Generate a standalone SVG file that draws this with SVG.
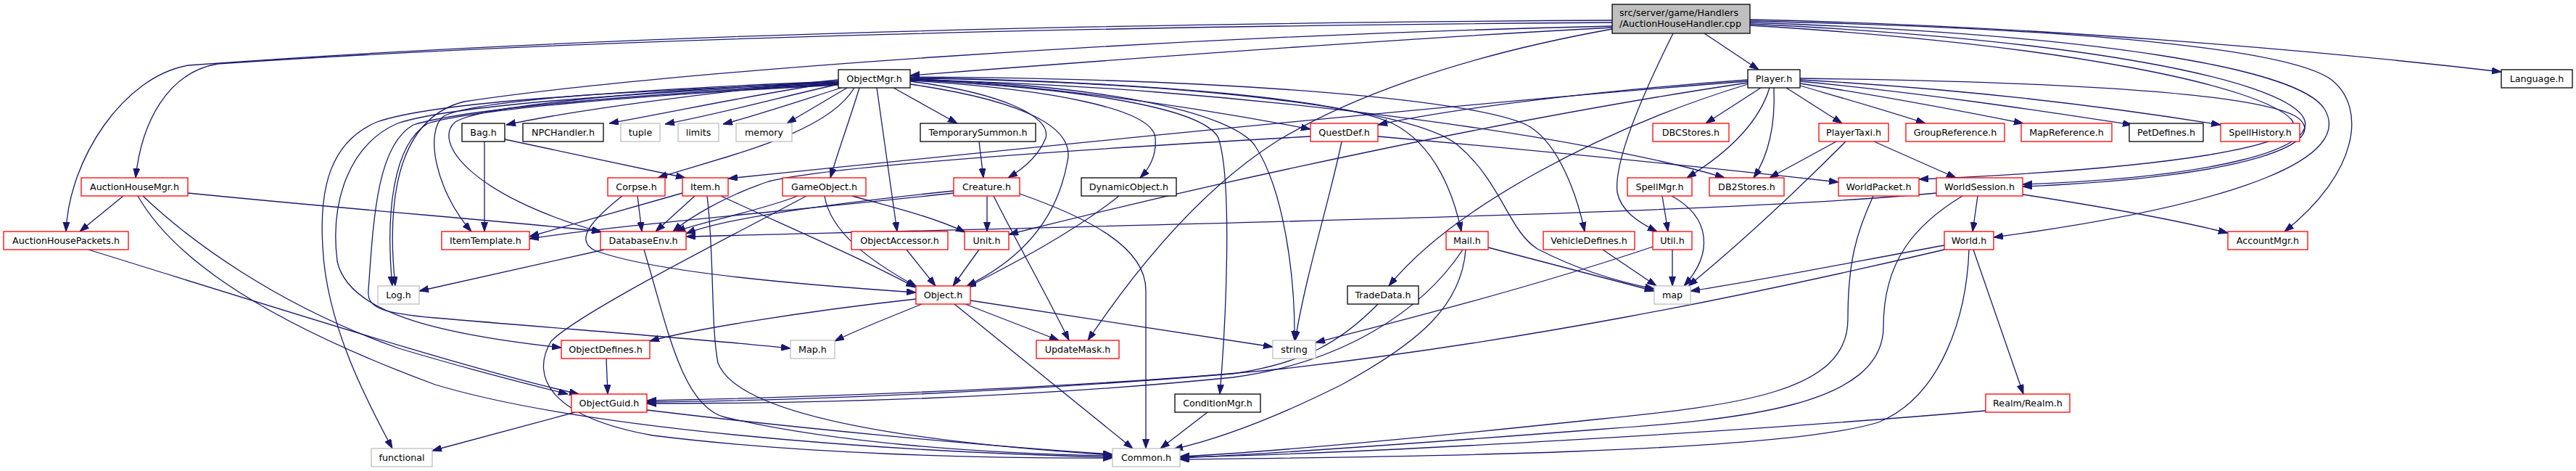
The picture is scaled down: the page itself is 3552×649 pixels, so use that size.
<svg xmlns="http://www.w3.org/2000/svg" width="3552" height="649" viewBox="0 0 3552 649">
<style>
rect{fill:#fff;stroke-width:1.3}
.r{stroke:#ff0000}.k{stroke:#000}.g{stroke:#bfbfbf}.s{fill:#bfbfbf;stroke:#000}
text{font-family:"DejaVu Sans","Liberation Sans",sans-serif;font-size:12.7px;text-anchor:middle;fill:#000}
#edges path{fill:none;stroke:#191970;stroke-width:1.3;marker-end:url(#a)}
</style>
<defs><marker id="a" markerUnits="userSpaceOnUse" markerWidth="13" markerHeight="10" refX="13" refY="4.5" orient="auto"><path d="M0,0L13,4.5L0,9z" fill="#191970" stroke="#191970" stroke-width="1"/></marker></defs>
<rect x="0" y="0" width="3552" height="649" style="fill:#fff;stroke:none"/>
<g id="edges">
<path d="M2223,28 C1500,32 800,50 260,90 C170,105 95,220 91,319"/>
<path d="M2223,31 C1500,36 800,54 300,88 C230,100 195,170 187,245"/>
<path d="M2223,38 C1900,55 1500,85 1255,104"/>
<path d="M2223,36 C1600,50 900,100 640,140 C560,160 530,250 545,394"/>
<path d="M2223,40 C2000,80 1850,140 1760,195 C1650,265 1560,380 1500,469"/>
<path d="M2307,46 C2270,120 2225,220 2230,265 C2235,290 2258,306 2285,319"/>
<path d="M2350,46 L2425,96"/>
<path d="M2413,27 C2800,35 3200,70 3449,99"/>
<path d="M2413,29 C2900,40 3160,70 3215,110 C3265,150 3250,240 3150,319"/>
<path d="M2413,31 C2900,48 3170,95 3205,150 C3245,215 3100,280 2749,327"/>
<path d="M2413,33 C2880,55 3140,110 3175,160 C3205,205 3050,245 2789,254"/>
<path d="M2413,35 C2860,62 3120,120 3160,165 C3185,200 3000,232 2646,247"/>
<path d="M2410,110 C2200,125 2000,150 1900,172"/>
<path d="M2410,112 C2100,135 1500,195 1004,246"/>
<path d="M2428,121 L2352,170"/>
<path d="M2440,121 C2425,170 2380,212 2326,245"/>
<path d="M2446,121 C2448,170 2440,212 2418,245"/>
<path d="M2463,121 L2540,170"/>
<path d="M2482,118 C2540,135 2600,152 2655,170"/>
<path d="M2482,115 C2600,133 2700,152 2790,170"/>
<path d="M2482,112 C2650,128 2810,152 2940,172"/>
<path d="M2482,110 C2700,122 2900,146 3062,172"/>
<path d="M2410,114 C2100,160 1700,245 1391,323"/>
<path d="M2410,116 C2200,180 2000,290 1915,394"/>
<path d="M2482,108 C2800,112 3100,125 3165,160 C3220,195 3100,245 2789,257"/>
<path d="M2532,195 L2440,245"/>
<path d="M2584,195 L2697,245"/>
<path d="M2545,195 C2480,260 2400,335 2328,394"/>
<path d="M2727,270 L2720,319"/>
<path d="M2789,268 C2900,285 3000,303 3072,321"/>
<path d="M2706,270 C2640,310 2597,360 2597,450 C2597,560 2400,578 2200,592 C1900,615 1700,628 1627,631"/>
<path d="M2670,266 C2400,292 1800,305 946,326"/>
<path d="M2583,270 C2560,320 2548,360 2548,440 C2548,540 2400,558 2200,578 C1900,610 1700,626 1627,629"/>
<path d="M2721,344 L2790,543"/>
<path d="M2715,344 C2712,430 2680,545 2590,582 C2450,625 1900,630 1627,633"/>
<path d="M2681,338 C2550,362 2420,388 2331,401"/>
<path d="M2681,344 C2400,410 2100,470 1770,508 C1500,535 1100,548 892,552"/>
<path d="M2738,566 C2400,595 1900,624 1627,630"/>
<path d="M2052,341 L2281,401"/>
<path d="M2017,344 C1960,430 1850,500 1700,520 C1400,550 1100,556 892,556"/>
<path d="M2021,344 C2015,420 1960,470 1850,530 C1760,575 1680,605 1618,619"/>
<path d="M1900,419 C1850,470 1800,500 1700,515 C1400,540 1100,552 892,554"/>
<path d="M2210,344 L2284,394"/>
<path d="M2306,344 L2306,394"/>
<path d="M2279,340 C2100,400 1900,450 1814,472"/>
<path d="M2292,270 L2300,319"/>
<path d="M2305,270 C2360,300 2362,350 2322,394"/>
<path d="M1850,195 C1835,270 1800,380 1786,469"/>
<path d="M1807,188 C1500,205 1150,228 1060,250 C1000,270 950,300 928,319"/>
<path d="M1900,188 C2150,210 2350,230 2535,251"/>
<path d="M1156,110 C1000,125 800,150 698,172"/>
<path d="M1156,113 C1050,128 950,150 840,170"/>
<path d="M1156,116 C1080,133 1000,155 917,171"/>
<path d="M1160,121 C1100,140 1040,160 997,171"/>
<path d="M1168,121 L1085,170"/>
<path d="M1185,121 C1170,170 1155,210 1145,245"/>
<path d="M1178,121 C1140,185 1000,215 907,245"/>
<path d="M1156,112 C900,122 650,138 612,160 C585,180 600,262 650,319"/>
<path d="M1156,113 C900,124 665,145 628,168 C595,195 650,270 829,320"/>
<path d="M1156,114 C850,126 600,140 520,168 C455,195 440,260 445,340 C450,450 510,560 541,618"/>
<path d="M1156,115 C850,129 620,146 548,170 C480,200 455,280 465,360 C480,430 600,460 774,479"/>
<path d="M1156,116 C850,131 640,151 570,172 C520,200 515,300 508,400 C505,425 530,432 600,438 C800,455 1000,470 1090,480"/>
<path d="M1156,117 C850,133 650,152 590,170 C540,200 532,300 541,394"/>
<path d="M1209,121 L1237,319"/>
<path d="M1232,121 L1320,170"/>
<path d="M1255,112 C1380,128 1450,160 1442,190 C1432,215 1412,232 1390,245"/>
<path d="M1255,116 C1420,140 1482,178 1472,222 C1460,290 1420,352 1333,394"/>
<path d="M1255,111 C1450,123 1590,150 1593,190 C1595,215 1585,232 1572,245"/>
<path d="M1255,110 C1500,122 1660,150 1680,190 C1700,250 1690,450 1682,543"/>
<path d="M1255,109 C1550,118 1700,160 1730,200 C1770,260 1786,380 1785,469"/>
<path d="M1255,108 C1450,118 1650,148 1807,178"/>
<path d="M1255,107 C1600,113 1850,138 1920,170 C1980,200 2005,270 2015,319"/>
<path d="M1255,106 C1700,108 2050,138 2110,175 C2150,200 2175,270 2185,319"/>
<path d="M1255,108 C1650,113 1950,150 2010,200 C2070,250 2080,318 2120,343 C2180,374 2240,390 2281,398"/>
<path d="M1255,110 C1700,118 2200,190 2378,245"/>
<path d="M696,192 L945,245"/>
<path d="M668,195 L668,319"/>
<path d="M941,266 L730,326"/>
<path d="M958,270 L904,319"/>
<path d="M994,270 C1080,310 1180,352 1262,396"/>
<path d="M975,270 C985,350 980,450 990,500 C1020,580 1300,612 1534,627"/>
<path d="M879,270 L885,319"/>
<path d="M858,270 C820,300 790,330 820,345 C900,375 1100,392 1263,403"/>
<path d="M1100,270 C1050,290 970,305 932,319"/>
<path d="M1112,270 C1000,330 800,430 760,470 C730,520 760,575 900,600 C1100,625 1350,632 1534,631"/>
<path d="M1137,270 C1145,320 1200,360 1264,395"/>
<path d="M1175,270 C1230,285 1290,300 1331,320"/>
<path d="M1361,270 L1361,319"/>
<path d="M1370,270 C1400,330 1440,400 1474,469"/>
<path d="M1406,267 C1500,300 1580,340 1580,400 L1580,618"/>
<path d="M1315,263 C1150,280 1000,300 946,322"/>
<path d="M1315,266 C1100,290 850,310 730,329"/>
<path d="M1543,270 C1480,320 1400,362 1333,396"/>
<path d="M1250,344 L1290,394"/>
<path d="M1350,344 L1314,394"/>
<path d="M1263,412 C1100,430 950,455 896,470"/>
<path d="M1271,419 C1220,440 1180,455 1151,470"/>
<path d="M1331,419 L1460,469"/>
<path d="M1316,419 L1562,618"/>
<path d="M1338,414 L1755,478"/>
<path d="M836,494 L838,543"/>
<path d="M122,344 C400,430 650,510 798,543"/>
<path d="M170,270 L110,319"/>
<path d="M259,266 C500,290 700,305 829,319"/>
<path d="M197,270 C260,330 380,420 550,480 C650,510 730,530 783,543"/>
<path d="M190,270 C230,340 330,430 600,530 C800,590 1200,622 1534,630"/>
<path d="M793,568 L596,621"/>
<path d="M892,565 C1100,590 1350,614 1534,626"/>
<path d="M833,344 L578,401"/>
<path d="M888,344 C920,450 940,560 1000,575 C1150,610 1350,625 1534,628"/>
<path d="M1665,568 L1600,618"/>
<path d="M1350,195 L1356,245"/>
</g>
<g id="n-src"><rect class="s" x="2223" y="6" width="190" height="40"/><text x="2233" y="22" style="text-anchor:start">src/server/game/Handlers</text><text x="2233" y="37" style="text-anchor:start">/AuctionHouseHandler.cpp</text></g>
<g id="n-objectmgr"><rect class="k" x="1156" y="96" width="99" height="25"/><text x="1205.5" y="113">ObjectMgr.h</text></g>
<g id="n-player"><rect class="k" x="2410" y="96" width="72" height="25"/><text x="2446" y="113">Player.h</text></g>
<g id="n-language"><rect class="k" x="3449" y="96" width="98" height="25"/><text x="3498" y="113">Language.h</text></g>
<g id="n-bag"><rect class="k" x="637" y="170" width="59" height="25"/><text x="666.5" y="187">Bag.h</text></g>
<g id="n-npchandler"><rect class="k" x="721" y="170" width="111" height="25"/><text x="776.5" y="187">NPCHandler.h</text></g>
<g id="n-tuple"><rect class="g" x="856" y="170" width="54" height="25"/><text x="883" y="187">tuple</text></g>
<g id="n-limits"><rect class="g" x="935" y="170" width="56" height="25"/><text x="963" y="187">limits</text></g>
<g id="n-memory"><rect class="g" x="1015" y="170" width="77" height="25"/><text x="1053.5" y="187">memory</text></g>
<g id="n-tempsummon"><rect class="k" x="1269" y="170" width="159" height="25"/><text x="1348.5" y="187">TemporarySummon.h</text></g>
<g id="n-questdef"><rect class="r" x="1807" y="170" width="93" height="25"/><text x="1853.5" y="187">QuestDef.h</text></g>
<g id="n-dbcstores"><rect class="r" x="2279" y="170" width="105" height="25"/><text x="2331.5" y="187">DBCStores.h</text></g>
<g id="n-playertaxi"><rect class="r" x="2508" y="170" width="96" height="25"/><text x="2556" y="187">PlayerTaxi.h</text></g>
<g id="n-groupref"><rect class="r" x="2628" y="170" width="136" height="25"/><text x="2696" y="187">GroupReference.h</text></g>
<g id="n-mapref"><rect class="r" x="2787" y="170" width="125" height="25"/><text x="2849.5" y="187">MapReference.h</text></g>
<g id="n-petdefines"><rect class="k" x="2936" y="170" width="102" height="25"/><text x="2987" y="187">PetDefines.h</text></g>
<g id="n-spellhistory"><rect class="r" x="3062" y="170" width="109" height="25"/><text x="3116.5" y="187">SpellHistory.h</text></g>
<g id="n-ahmgr"><rect class="r" x="112" y="245" width="147" height="25"/><text x="185.5" y="262">AuctionHouseMgr.h</text></g>
<g id="n-corpse"><rect class="r" x="838" y="245" width="79" height="25"/><text x="877.5" y="262">Corpse.h</text></g>
<g id="n-item"><rect class="r" x="941" y="245" width="63" height="25"/><text x="972.5" y="262">Item.h</text></g>
<g id="n-gameobject"><rect class="r" x="1079" y="245" width="115" height="25"/><text x="1136.5" y="262">GameObject.h</text></g>
<g id="n-creature"><rect class="r" x="1315" y="245" width="91" height="25"/><text x="1360.5" y="262">Creature.h</text></g>
<g id="n-dynobject"><rect class="k" x="1491" y="245" width="131" height="25"/><text x="1556.5" y="262">DynamicObject.h</text></g>
<g id="n-spellmgr"><rect class="r" x="2244" y="245" width="89" height="25"/><text x="2288.5" y="262">SpellMgr.h</text></g>
<g id="n-db2stores"><rect class="r" x="2357" y="245" width="103" height="25"/><text x="2408.5" y="262">DB2Stores.h</text></g>
<g id="n-worldpacket"><rect class="r" x="2535" y="245" width="111" height="25"/><text x="2590.5" y="262">WorldPacket.h</text></g>
<g id="n-worldsession"><rect class="r" x="2670" y="245" width="119" height="25"/><text x="2729.5" y="262">WorldSession.h</text></g>
<g id="n-ahpackets"><rect class="r" x="5" y="319" width="172" height="25"/><text x="91" y="336">AuctionHousePackets.h</text></g>
<g id="n-itemtemplate"><rect class="r" x="609" y="319" width="121" height="25"/><text x="669.5" y="336">ItemTemplate.h</text></g>
<g id="n-databaseenv"><rect class="r" x="828" y="319" width="118" height="25"/><text x="887" y="336">DatabaseEnv.h</text></g>
<g id="n-objaccessor"><rect class="r" x="1174" y="319" width="133" height="25"/><text x="1240.5" y="336">ObjectAccessor.h</text></g>
<g id="n-unit"><rect class="r" x="1330" y="319" width="61" height="25"/><text x="1360.5" y="336">Unit.h</text></g>
<g id="n-mail"><rect class="r" x="1994" y="319" width="58" height="25"/><text x="2023" y="336">Mail.h</text></g>
<g id="n-vehicledefines"><rect class="r" x="2128" y="319" width="126" height="25"/><text x="2191" y="336">VehicleDefines.h</text></g>
<g id="n-util"><rect class="r" x="2279" y="319" width="54" height="25"/><text x="2306" y="336">Util.h</text></g>
<g id="n-world"><rect class="r" x="2681" y="319" width="68" height="25"/><text x="2715" y="336">World.h</text></g>
<g id="n-accountmgr"><rect class="r" x="3072" y="319" width="110" height="25"/><text x="3127" y="336">AccountMgr.h</text></g>
<g id="n-log"><rect class="g" x="521" y="394" width="57" height="25"/><text x="549.5" y="411">Log.h</text></g>
<g id="n-object"><rect class="r" x="1263" y="394" width="75" height="25"/><text x="1300.5" y="411">Object.h</text></g>
<g id="n-tradedata"><rect class="k" x="1858" y="394" width="98" height="25"/><text x="1907" y="411">TradeData.h</text></g>
<g id="n-map"><rect class="g" x="2281" y="394" width="50" height="25"/><text x="2306" y="411">map</text></g>
<g id="n-objectdefines"><rect class="r" x="774" y="469" width="122" height="25"/><text x="835" y="486">ObjectDefines.h</text></g>
<g id="n-maph"><rect class="g" x="1090" y="469" width="61" height="25"/><text x="1120.5" y="486">Map.h</text></g>
<g id="n-updatemask"><rect class="r" x="1429" y="469" width="114" height="25"/><text x="1486" y="486">UpdateMask.h</text></g>
<g id="n-string"><rect class="g" x="1755" y="469" width="59" height="25"/><text x="1784.5" y="486">string</text></g>
<g id="n-objectguid"><rect class="r" x="788" y="543" width="104" height="25"/><text x="840" y="560">ObjectGuid.h</text></g>
<g id="n-conditionmgr"><rect class="k" x="1620" y="543" width="118" height="25"/><text x="1679" y="560">ConditionMgr.h</text></g>
<g id="n-realm"><rect class="r" x="2738" y="543" width="116" height="25"/><text x="2796" y="560">Realm/Realm.h</text></g>
<g id="n-functional"><rect class="g" x="512" y="618" width="84" height="25"/><text x="554" y="635">functional</text></g>
<g id="n-common"><rect class="g" x="1534" y="618" width="93" height="25"/><text x="1580.5" y="635">Common.h</text></g>
</svg>
